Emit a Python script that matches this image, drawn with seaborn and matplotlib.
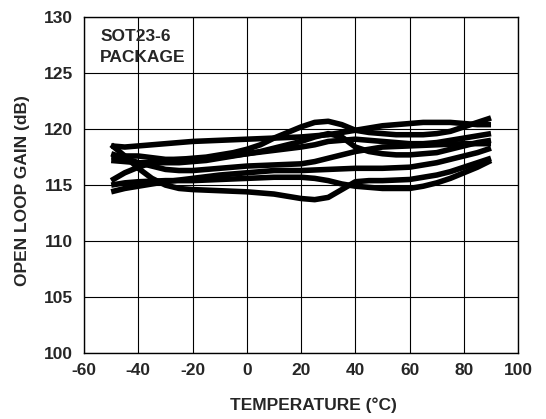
import numpy as np
import pandas as pd
import matplotlib
matplotlib.use("Agg")
import matplotlib.pyplot as plt
import seaborn as sns

# Temperature points (°C) at which each unit's open-loop gain was measured
temperature = [-50, -45, -40, -35, -30, -25, -20, -15, -10, -5, 0, 5, 10, 15, 20,
               25, 30, 35, 40, 45, 50, 55, 60, 65, 70, 75, 80, 85, 90]

# Open-loop gain (dB) of each SOT23-6 unit
unit_1 = [118.5, 118.4, 118.5, 118.6, 118.7, 118.8, 118.9, 118.95, 119.0, 119.05, 119.1, 119.15, 119.2, 119.25, 119.3,
          119.4, 119.5, 119.7, 119.9, 120.1, 120.3, 120.4, 120.5, 120.6, 120.6, 120.6, 120.5, 120.4, 120.4]
unit_2 = [115.4, 116.1, 116.6, 117.0, 117.2, 117.3, 117.4, 117.5, 117.7, 117.9, 118.2, 118.6, 119.2, 119.7, 120.2,
          120.6, 120.7, 120.4, 119.9, 119.7, 119.6, 119.5, 119.5, 119.5, 119.6, 119.8, 120.2, 120.6, 121.0]
unit_3 = [117.2, 117.1, 117.0, 117.0, 117.0, 117.0, 117.1, 117.2, 117.4, 117.6, 117.8, 118.0, 118.3, 118.6, 118.9,
          119.3, 119.6, 119.3, 118.4, 118.0, 117.8, 117.7, 117.7, 117.8, 117.9, 118.2, 118.5, 118.8, 119.0]
unit_4 = [118.6, 117.6, 116.5, 115.6, 115.0, 114.7, 114.6, 114.55, 114.5, 114.45, 114.4, 114.3, 114.2, 114.0, 113.8,
          113.7, 113.9, 114.6, 115.3, 115.4, 115.4, 115.45, 115.5, 115.7, 115.9, 116.2, 116.6, 117.0, 117.4]
unit_5 = [115.0, 115.2, 115.3, 115.35, 115.4, 115.4, 115.4, 115.45, 115.5, 115.55, 115.6, 115.65, 115.7, 115.7, 115.7,
          115.6, 115.4, 115.1, 114.9, 114.8, 114.7, 114.7, 114.7, 114.9, 115.2, 115.6, 116.1, 116.6, 117.2]
unit_6 = [114.4, 114.7, 114.9, 115.1, 115.3, 115.45, 115.6, 115.75, 115.9, 116.0, 116.1, 116.2, 116.3, 116.3, 116.3,
          116.35, 116.4, 116.45, 116.5, 116.5, 116.5, 116.55, 116.6, 116.8, 117.0, 117.3, 117.6, 117.9, 118.3]
unit_7 = [117.5, 117.6, 117.6, 117.45, 117.3, 117.3, 117.3, 117.4, 117.5, 117.65, 117.8, 117.95, 118.1, 118.25, 118.4,
          118.6, 118.9, 119.0, 119.1, 119.0, 118.9, 118.8, 118.7, 118.7, 118.8, 119.0, 119.2, 119.4, 119.6]
unit_8 = [117.8, 117.4, 117.0, 116.7, 116.4, 116.3, 116.3, 116.4, 116.5, 116.6, 116.7, 116.75, 116.8, 116.85, 116.9,
          117.1, 117.4, 117.7, 118.0, 118.2, 118.4, 118.45, 118.5, 118.55, 118.6, 118.65, 118.7, 118.7, 118.7]

units = [unit_1, unit_2, unit_3, unit_4, unit_5, unit_6, unit_7, unit_8]

x_ticks = [-60, -40, -20, 0, 20, 40, 60, 80, 100]
y_ticks = [100, 105, 110, 115, 120, 125, 130]

df = pd.DataFrame(
    [(t, g, i) for i, u in enumerate(units) for t, g in zip(temperature, u)],
    columns=["temp", "gain", "unit"],
)

sns.set_style("white")
plt.rcParams["font.family"] = ["Liberation Sans", "DejaVu Sans"]
plt.rcParams["font.weight"] = "bold"

fig = plt.figure(figsize=(5.46, 4.19), dpi=100)
ax = fig.add_axes([0.154, 0.1575, 0.795, 0.8015])

sns.lineplot(
    data=df, x="temp", y="gain", units="unit", estimator=None,
    color="black", linewidth=4.0, ax=ax, legend=False,
    solid_joinstyle="round", solid_capstyle="butt",
)

ax.set_xlim(-60, 100)
ax.set_ylim(100, 130)
ax.set_xticks(x_ticks)
ax.set_yticks(y_ticks)
ax.set_xticklabels([str(v) for v in x_ticks], fontsize=12.5, fontweight="bold")
ax.set_yticklabels([str(v) for v in y_ticks], fontsize=12.5, fontweight="bold")
ax.tick_params(axis="x", length=0, pad=7)
ax.tick_params(axis="y", length=0, pad=8)
ax.grid(True, color="black", linewidth=0.8)
ax.set_axisbelow(True)
for s in ax.spines.values():
    s.set_color("black")
    s.set_linewidth(1.0)

ax.set_xlabel("TEMPERATURE (°C)", fontsize=12.5, fontweight="bold")
ax.xaxis.set_label_coords(0.528, -0.133)
ax.set_ylabel("OPEN LOOP GAIN (dB)", fontsize=12.5, fontweight="bold")
ax.yaxis.set_label_coords(-0.125, 0.485)

ax.text(-54, 128.9, "SOT23-6\nPACKAGE", fontsize=12.5, fontweight="bold",
        va="top", ha="left", linespacing=1.5)

fig.savefig("out.png", dpi=100)
